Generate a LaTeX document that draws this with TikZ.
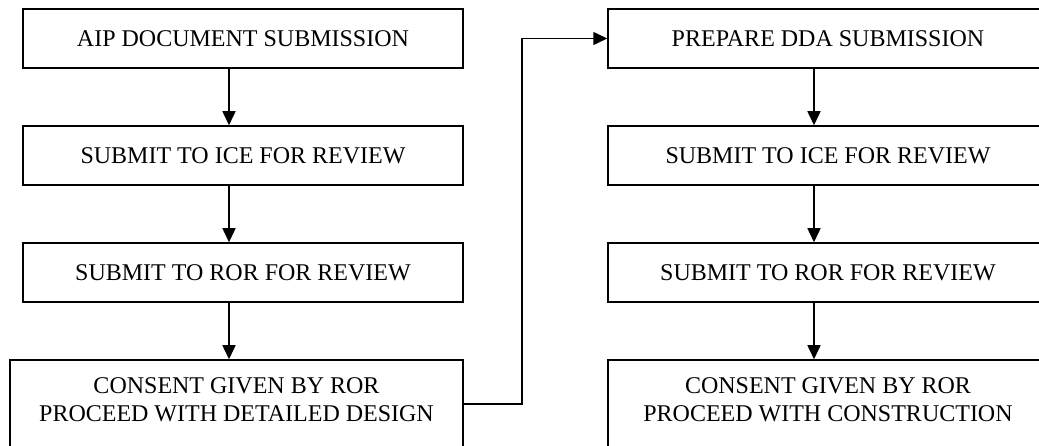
\documentclass[tikz,border=0pt]{standalone}
\usepackage{fontspec}
\setmainfont{Liberation Serif}
\usetikzlibrary{arrows.meta}
\begin{document}
\begin{tikzpicture}[x=1pt,y=-1pt,
  stepfont/.style={font=\fontsize{24}{28}\selectfont},
  stepbox/.style={draw, line width=1.5pt, inner sep=0pt, align=center,
    minimum width=440pt, minimum height=59pt, stepfont},
  bigbox/.style={stepbox, minimum height=88pt},
  boxtext/.style={align=center, inner sep=0pt, stepfont, yshift=4pt},
  arr/.style={line width=1.5pt, -{Triangle[length=14pt,width=13pt]}}]
  \useasboundingbox (0,0) rectangle (1039,446);
  \clip (0,0) rectangle (1039,446);

  % left column: preliminary design
  \node[stepbox] (a1) at (243,38.5)  {AIP DOCUMENT SUBMISSION};
  \node[stepbox] (a2) at (243,155.5) {SUBMIT TO ICE FOR REVIEW};
  \node[stepbox] (a3) at (243,272.5) {SUBMIT TO ROR FOR REVIEW};
  \node[bigbox, minimum width=453pt,
    label={[boxtext]center:CONSENT GIVEN BY ROR\\PROCEED WITH DETAILED DESIGN}]
    (a4) at (236.5,404) {};

  % right column: detailed design
  \node[stepbox] (b1) at (828,38.5)  {PREPARE DDA SUBMISSION};
  \node[stepbox] (b2) at (828,155.5) {SUBMIT TO ICE FOR REVIEW};
  \node[stepbox] (b3) at (828,272.5) {SUBMIT TO ROR FOR REVIEW};
  \node[bigbox,
    label={[boxtext]center:CONSENT GIVEN BY ROR\\PROCEED WITH CONSTRUCTION}]
    (b4) at (828,404) {};

  % vertical flow, slightly left of the box centres
  \foreach \u/\v in {a1/a2,a2/a3,b1/b2,b2/b3}
    \draw[arr] ([xshift=-14pt]\u.south) -- ([xshift=-14pt]\v.north);
  \draw[arr] ([xshift=-14pt]a3.south) -- ([xshift=-7.5pt]a4.north);
  \draw[arr] ([xshift=-14pt]b3.south) -- ([xshift=-14pt]b4.north);

  % hand-over from the left column to the right one
  \draw[arr] (a4.east) -- ++(58,0) |- (b1.west);
\end{tikzpicture}
\end{document}
